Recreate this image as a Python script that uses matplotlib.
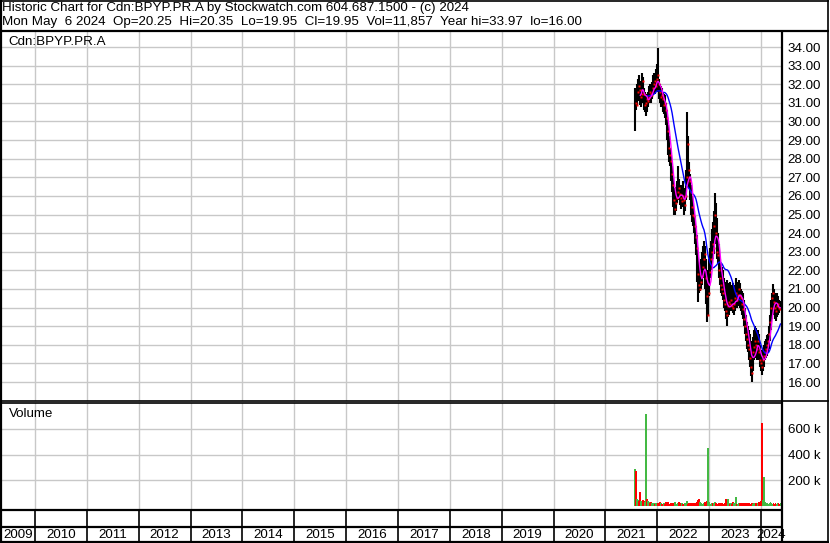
import matplotlib
matplotlib.use("Agg")
import matplotlib.pyplot as plt
import numpy as np
import pandas as pd

W, H = 830, 543

TITLE = "Historic Chart for Cdn:BPYP.PR.A by Stockwatch.com 604.687.1500 - (c) 2024"
SUBTITLE = "Mon May  6 2024  Op=20.25  Hi=20.35  Lo=19.95  Cl=19.95  Vol=11,857  Year hi=33.97  lo=16.00"
SYMBOL = "Cdn:BPYP.PR.A"

# weekly bars, first week ending 2021-07-30
first_week = "2021-07-30"
highs = [
    31.8, 31.6, 32.0, 32.3, 32.5, 32.2, 32.1, 32.6, 32.4, 31.8,
    31.6, 31.5, 31.3, 31.6, 31.9, 32.0, 31.8, 32.1, 32.5, 32.6,
    32.4, 32.8, 33.1, 33.97, 32.3, 32.0, 31.9, 31.8, 31.6, 31.5,
    31.4, 31.0, 30.6, 29.8, 29.2, 28.6, 28.2, 27.6, 27.0, 26.4,
    26.1, 26.5, 26.8, 27.6, 26.9, 26.6, 26.4, 26.6, 26.8, 26.2,
    26.4, 27.4, 30.5, 29.2, 27.8, 27.2, 26.6, 26.0, 25.6, 25.2,
    24.9, 24.4, 23.9, 23.0, 22.4, 22.2, 22.6, 23.0, 23.3, 23.6,
    23.3, 22.6, 22.0, 21.8, 22.6, 23.2, 23.6, 24.2, 24.6, 25.2,
    26.15, 25.6, 24.8, 24.0, 23.4, 22.6, 22.4, 22.2, 22.0, 21.6,
    21.4, 21.2, 21.5, 21.3, 21.1, 21.4, 21.2, 21.0, 21.3, 21.0,
    21.2, 21.6, 21.2, 21.4, 21.5, 21.3, 21.0, 20.9, 20.8, 20.4,
    20.0, 19.6, 19.2, 19.0, 18.8, 18.6, 18.2, 17.8, 18.4, 18.8,
    19.0, 18.9, 18.6, 18.8, 18.6, 18.0, 17.7, 17.6, 17.8, 18.0,
    18.2, 18.3, 18.5, 18.6, 19.0, 19.6, 20.4, 20.8, 21.27, 21.0,
    20.8, 20.6, 20.6, 20.8, 20.6, 20.4, 20.35,
]
lows = [
    29.5, 30.6, 30.9, 31.1, 31.3, 30.9, 30.8, 31.2, 31.0, 30.6,
    30.5, 30.3, 30.5, 30.8, 31.0, 31.1, 31.0, 31.2, 31.4, 31.6,
    31.5, 31.6, 31.8, 31.6, 31.2, 31.0, 30.8, 30.9, 30.5, 30.4,
    30.2, 29.8, 29.0, 28.2, 27.8, 27.6, 26.8, 26.2, 25.4, 25.0,
    25.0, 25.2, 25.6, 25.9, 25.8, 25.5, 25.3, 25.6, 25.4, 25.0,
    25.2, 25.8, 26.6, 27.0, 26.4, 25.8, 25.0, 24.6, 24.4, 24.0,
    23.4, 22.8, 21.4, 20.3, 20.8, 20.9, 21.0, 21.2, 21.6, 21.8,
    21.0, 20.2, 19.2, 19.6, 20.6, 21.6, 22.0, 22.4, 22.6, 22.9,
    23.6, 23.4, 22.6, 22.4, 21.6, 21.2, 20.8, 20.6, 20.4, 20.0,
    19.8, 19.4, 19.0, 19.5, 19.6, 19.8, 19.9, 19.8, 19.7, 19.6,
    19.8, 20.0, 20.0, 20.1, 20.2, 20.0, 19.8, 19.6, 19.4, 19.0,
    18.6, 18.2, 17.8, 17.6, 17.2, 16.8, 16.3, 16.0, 16.6, 17.2,
    17.4, 17.3, 17.2, 17.4, 17.2, 16.8, 16.6, 16.4, 16.6, 16.8,
    17.2, 17.3, 17.4, 17.6, 17.8, 18.2, 18.8, 19.4, 19.8, 19.6,
    19.4, 19.3, 19.4, 19.5, 19.6, 19.7, 19.95,
]
closes = [
    31.0, 30.9, 31.6, 31.9, 31.7, 31.3, 31.5, 32.2, 31.5, 30.9,
    31.0, 31.2, 31.1, 31.3, 31.6, 31.5, 31.4, 31.8, 32.0, 32.2,
    31.9, 32.3, 32.5, 32.0, 31.6, 31.3, 31.4, 31.2, 30.9, 31.0,
    30.6, 30.2, 29.5, 28.6, 28.2, 27.9, 27.2, 26.6, 25.8, 25.3,
    25.6, 25.9, 26.2, 26.4, 26.1, 25.9, 25.7, 26.0, 25.8, 25.5,
    26.0, 27.0, 28.8, 27.4, 26.8, 26.2, 25.4, 25.0, 24.9, 24.4,
    23.8, 23.2, 21.8, 21.2, 21.0, 21.4, 21.7, 22.2, 22.6, 22.9,
    21.6, 20.6, 19.6, 20.8, 21.9, 22.6, 23.0, 23.4, 23.2, 24.4,
    25.0, 24.0, 23.0, 22.8, 22.0, 21.6, 21.2, 21.0, 20.8, 20.4,
    20.2, 19.8, 19.6, 20.1, 20.3, 20.2, 20.4, 20.1, 20.0, 20.2,
    20.5, 20.8, 20.4, 20.7, 21.0, 20.6, 20.5, 20.2, 19.9, 19.4,
    19.0, 18.6, 18.3, 18.0, 17.8, 17.3, 16.8, 16.5, 17.6, 17.9,
    18.2, 18.0, 17.8, 18.2, 17.6, 17.2, 17.0, 16.8, 17.2, 17.4,
    17.6, 17.8, 18.0, 18.2, 18.6, 19.2, 20.0, 20.5, 20.8, 20.3,
    20.0, 19.8, 20.1, 20.2, 20.0, 19.9, 19.95,
]
# weekly volume, thousands of shares
volumes = [
    292, 270, 60, 45, 40, 108, 38, 30, 45, 40, 30, 715, 55, 40, 35, 25, 30, 22, 18, 26,
    20, 28, 18, 24, 16, 30, 22, 15, 20, 26, 18, 32, 24, 36, 20, 16, 28, 22, 18, 24,
    30, 20, 16, 24, 34, 18, 22, 26, 16, 20, 28, 24, 38, 18, 22, 16, 26, 20, 24, 18,
    28, 22, 36, 50, 54, 32, 24, 20, 18, 26, 30, 22, 40, 454, 36, 20, 16, 24, 28, 22,
    32, 24, 18, 20, 28, 16, 22, 26, 20, 18, 24, 56, 36, 54, 28, 20, 24, 18, 30, 22,
    26, 70, 20, 16, 24, 28, 18, 22, 20, 26, 16, 24, 18, 22, 28, 20, 16, 24, 18, 22,
    20, 26, 16, 24, 32, 22, 40, 646, 45, 223, 36, 24, 20, 28, 18, 24, 32, 22, 20, 26,
    18, 24, 20, 28, 22, 18, 24,
]
years = list(range(2009, 2025))
price_ticks = list(range(16, 35))
vol_ticks = [200, 400, 600]

X0, X1 = 2009.345, 2024.404
GRID = "#c8c8c8"
GREEN = "#44b944"
FONT = "Liberation Sans"
FS = 9.6


def frac_year(d):
    start = pd.Timestamp(year=d.year, month=1, day=1)
    end = pd.Timestamp(year=d.year + 1, month=1, day=1)
    return d.year + (d - start) / (end - start)


def rect(x0, y0, x1, y1):
    return [x0 / W, 1 - y1 / H, (x1 - x0) / W, (y1 - y0) / H]


dates = pd.date_range(first_week, periods=len(closes), freq="W-FRI")
x = np.array([frac_year(d) for d in dates])
df = pd.DataFrame({"x": x, "h": highs, "l": lows, "c": closes, "v": volumes})
ma_short = df["c"].rolling(6).mean()
ma_long = df["c"].rolling(20, min_periods=13).mean()
up = df["c"].diff().fillna(1) >= 0

plt.rcParams["font.family"] = [FONT, "DejaVu Sans"]
fig = plt.figure(figsize=(W / 100, H / 100), dpi=100)

# price panel
ax = fig.add_axes(rect(1, 31, 782, 401))
ax.set_xlim(X0, X1)
ax.set_ylim(14.98, 34.86)
for yr in years[1:]:
    ax.axvline(yr, color=GRID, lw=1, zorder=0)
for p in price_ticks:
    ax.axhline(p, color=GRID, lw=1, zorder=0)
ax.vlines(df["x"], df["l"], df["h"], color="black", lw=1.5, zorder=2)
ax.plot(df["x"] + 0.012, df["c"], ls="none", marker="s", ms=1.5, color="red", mec="none", zorder=3)
ax.plot(df["x"], ma_long, color="#0000ff", lw=1.0, zorder=4)
ax.plot(df["x"], ma_short, color="#ff00ff", lw=1.0, zorder=5)
ax.yaxis.tick_right()
ax.set_yticks(price_ticks)
ax.set_yticklabels([f"{p:.2f}" for p in price_ticks], fontsize=FS)
ax.tick_params(axis="y", length=0, pad=4)
ax.set_xticks([])
for s in ax.spines.values():
    s.set_visible(False)
ax.text(0.009, 0.97, SYMBOL, transform=ax.transAxes, fontsize=FS, va="center", ha="left")

# volume panel
av = fig.add_axes(rect(1, 403, 782, 509))
av.set_xlim(X0, X1)
av.set_ylim(-21, 799)
for yr in years[1:]:
    av.axvline(yr, color=GRID, lw=1, zorder=0)
for v in vol_ticks:
    av.axhline(v, color=GRID, lw=1, zorder=0)
av.bar(df["x"], df["v"], width=0.036, color=np.where(up, GREEN, "red"), zorder=2)
av.yaxis.tick_right()
av.set_yticks(vol_ticks)
av.set_yticklabels([f"{v} k" for v in vol_ticks], fontsize=FS)
av.tick_params(axis="y", length=0, pad=4)
av.set_xticks([])
for s in av.spines.values():
    s.set_visible(False)
av.text(0.01, 0.9, "Volume", transform=av.transAxes, fontsize=FS, va="center", ha="left")

# empty strip and year labels
strip = fig.add_axes(rect(1, 509, 782, 527))
lab = fig.add_axes(rect(1, 527, 782, 541))
for a in (strip, lab):
    a.set_xlim(X0, X1)
    a.set_ylim(0, 1)
    a.axis("off")
    for yr in years[1:]:
        a.axvline(yr, color="black", lw=1.2)
for yr in years:
    lo, hi = max(yr, X0), min(yr + 1, X1)
    lab.text((lo + hi) / 2, 0.45, str(yr), ha="center", va="center", fontsize=FS, clip_on=False)

# frame and header
fr = fig.add_axes([0, 0, 1, 1], zorder=10)
fr.set_xlim(0, W)
fr.set_ylim(H, 0)
fr.axis("off")
fr.patch.set_alpha(0)
k = dict(color="black", solid_capstyle="butt")
fr.plot([0, 828.5], [0.5, 0.5], lw=1.2, **k)
fr.plot([0, 828.5], [30.5, 30.5], lw=1.6, **k)
fr.plot([828, 828], [0, 542], lw=1.2, **k)
fr.plot([1, 1], [0, 542], lw=1.6, **k)
fr.plot([782, 782], [30.5, 542], lw=1.6, **k)
fr.plot([0, 828.5], [400.8, 400.8], lw=1.2, **k)
fr.plot([0, 782], [402.8, 402.8], lw=1.2, **k)
fr.plot([0, 782], [509.5, 509.5], lw=1.6, **k)
fr.plot([0, 782], [526.8, 526.8], lw=1.6, **k)
fr.plot([0, 828.5], [541.5, 541.5], lw=1.6, **k)
fr.text(2, 8.5, TITLE, fontsize=FS, va="center", ha="left")
fr.text(2, 22, SUBTITLE, fontsize=FS, va="center", ha="left")

fig.savefig("out.png", dpi=100)
